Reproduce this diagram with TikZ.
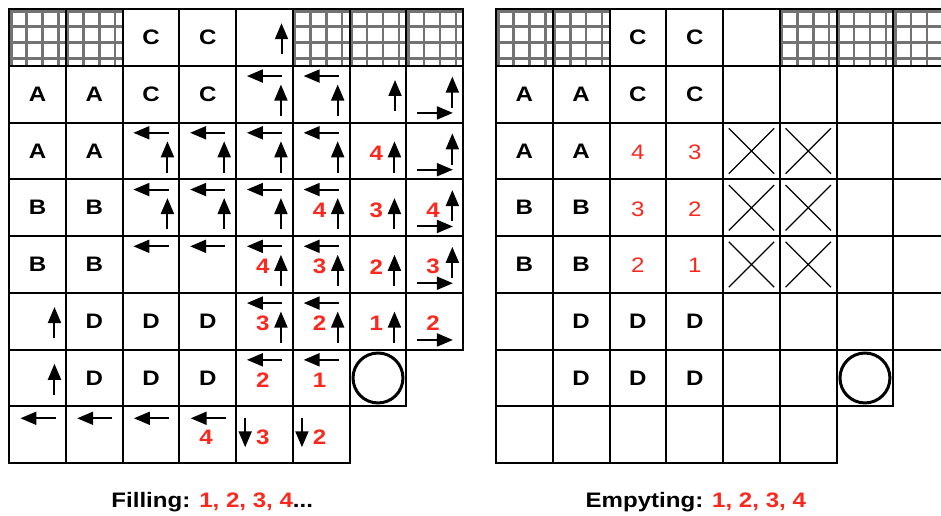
\documentclass[tikz,border=0pt]{standalone}
\usepackage{fontspec}
\setmainfont{Liberation Sans}[FakeStretch=1.15]
\usetikzlibrary{arrows.meta, positioning, calc}
\definecolor{stepred}{RGB}{250,40,30}

\begin{document}
\begin{tikzpicture}[
    x=1cm, y=1cm,
    cellbox/.style={draw, line width=1pt},
    hatch/.style={draw=black!55, line width=1.2pt},
    letter/.style={font=\fontsize{10.5}{12}\selectfont\bfseries, inner sep=0pt},
    num/.style={letter, text=stepred},
    numlight/.style={font=\fontsize{10.5}{12}\selectfont, text=stepred, inner sep=0pt},
    arr/.style={-{Triangle[length=8pt,width=6.5pt]}, line width=1pt},
    cross/.style={line width=0.6pt},
    drain/.style={circle, draw, line width=1.5pt, minimum size=0.88cm, inner sep=0pt}
    ]
    \useasboundingbox (0,0) rectangle (16.58,-9.075);
    \clip (0,0) rectangle (16.58,-9.075);

    % both grids: hatched top cells, cells, letters, drain
    \foreach \gx/\side in {0.16/fill, 8.74/empty}{
      \begin{scope}[shift={(\gx,-0.16)}]
        \foreach \c in {0,1,5,6,7}
          \foreach \h in {0.04,0.31,0.59,0.87}{
            \draw[hatch] (\c+\h,0) -- ++(0,-1);
            \draw[hatch] (\c,-\h) -- ++(1,0);
          }
        \foreach \r in {0,...,5}
          \foreach \c in {0,...,7}
            \draw[cellbox] (\c,-\r) rectangle ++(1,-1);
        \foreach \c in {0,...,6}
          \draw[cellbox] (\c,-6) rectangle ++(1,-1);
        \foreach \c in {0,...,5}
          \draw[cellbox] (\c,-7) rectangle ++(1,-1);
        \foreach \c/\r/\t in {2/0/C,3/0/C,0/1/A,1/1/A,2/1/C,3/1/C,0/2/A,1/2/A,0/3/B,1/3/B,
                               0/4/B,1/4/B,1/5/D,2/5/D,3/5/D,1/6/D,2/6/D,3/6/D}
          \node[letter] (\side-\c-\r) at (\c+0.5,-\r-0.5) {\t};
        \node[drain] (\side-drain) at (6.5,-6.5) {};
      \end{scope}
    }

    % Filling
    \begin{scope}[shift={(0.16,-0.16)}]
      % left arrows
      \foreach \c/\r in {4/1,5/1,2/2,3/2,4/2,5/2,2/3,3/3,4/3,5/3,2/4,3/4,4/4,5/4,4/5,5/5,4/6,5/6}
        \draw[arr] (\c+0.81,-\r-0.18) -- (\c+0.19,-\r-0.18);
      % up arrows
      \foreach \c/\r in {4/1,5/1,2/2,3/2,4/2,5/2,2/3,3/3,4/3,5/3,4/4,5/4,4/5,5/5,6/2,6/3,6/4,6/5}
        \draw[arr] (\c+0.79,-\r-0.88) -- (\c+0.79,-\r-0.33);
      \foreach \c/\r in {4/0,6/1,0/5,0/6}
        \draw[arr] (\c+0.8,-\r-0.8) -- (\c+0.8,-\r-0.25);
      % last column
      \foreach \r in {1,...,4}
        \draw[arr] (7.81,-\r-0.74) -- (7.81,-\r-0.19);
      \foreach \r in {1,...,5}
        \draw[arr] (7.18,-\r-0.83) -- (7.82,-\r-0.83);
      % bottom row
      \foreach \c in {0,...,3}
        \draw[arr] (\c+0.82,-7.21) -- (\c+0.2,-7.21);
      \foreach \c in {4,5}
        \draw[arr] (\c+0.16,-7.2) -- (\c+0.16,-7.72);
      % order
      \foreach \c/\r/\n in {6/2/4,5/3/4,6/3/3,7/3/4,4/4/4,5/4/3,6/4/2,7/4/3,4/5/3,5/5/2,
                             6/5/1,7/5/2,4/6/2,5/6/1,3/7/4,4/7/3,5/7/2}
        \node[num] (fill-\c-\r) at (\c+0.47,-\r-0.54) {\n};
    \end{scope}

    % Empyting
    \begin{scope}[shift={(8.74,-0.16)}]
      \foreach \c/\r/\n in {2/2/4,3/2/3,2/3/3,3/3/2,2/4/2,3/4/1}
        \node[numlight] (empty-\c-\r) at (\c+0.5,-\r-0.52) {\n};
      \foreach \c in {4,5}
        \foreach \r in {2,3,4}{
          \draw[cross] (\c+0.1,-\r-0.1) -- (\c+0.9,-\r-0.9);
          \draw[cross] (\c+0.1,-\r-0.9) -- (\c+0.9,-\r-0.1);
        }
    \end{scope}

    % Captions
    \node[letter, anchor=base west] (fillcap) at (1.956,-8.934)
      {Filling: \textcolor{stepred}{1, 2, 3, 4}...};
    \node[letter, anchor=base west] (emptycap) at (10.31,-8.934)
      {Empyting: \textcolor{stepred}{1, 2, 3, 4}};
\end{tikzpicture}
\end{document}
